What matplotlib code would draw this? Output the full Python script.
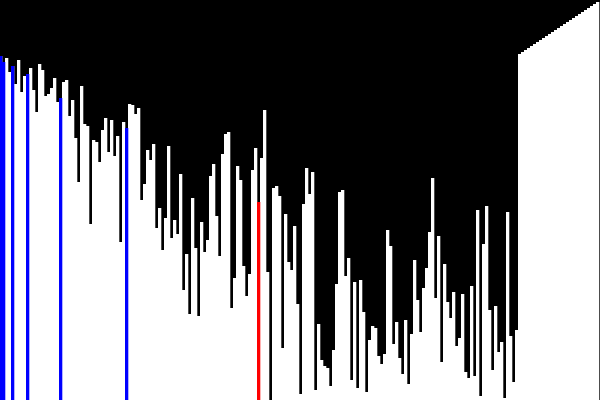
#!/usr/bin/env python3
"""Sorting snapshot: one white bar per element on black, with marked bars."""

import matplotlib

matplotlib.use("Agg")
import matplotlib.pyplot as plt

# top of each bar (pixels below the top edge)
tops = [
    56, 62, 58, 72, 66, 84, 60, 92, 76, 74,
    68, 90, 112, 64, 70, 96, 94, 88, 78, 102,
    98, 82, 80, 116, 100, 138, 182, 86, 124, 126,
    224, 140, 142, 162, 130, 118, 152, 120, 156, 136,
    242, 122, 128, 104, 105, 114, 108, 200, 184, 150,
    160, 144, 228, 208, 250, 218, 146, 238, 220, 234,
    174, 290, 254, 314, 198, 248, 316, 222, 252, 240,
    176, 164, 216, 256, 154, 134, 132, 308, 278, 166,
    180, 266, 296, 274, 170, 148, 202, 158, 110, 272,
    400, 188, 186, 196, 348, 214, 262, 270, 226, 304,
    394, 204, 168, 194, 172, 390, 324, 360, 366, 368,
    386, 350, 284, 192, 190, 276, 258, 380, 282, 388,
    280, 312, 392, 340, 326, 328, 356, 364, 354, 230,
    246, 344, 322, 358, 374, 320, 384, 334, 260, 300,
    332, 288, 268, 232, 178, 298, 236, 362, 264, 302,
    318, 292, 346, 338, 294, 372, 378, 286, 376, 210,
    396, 244, 206, 310, 370, 306, 352, 342, 398, 212,
    336, 382, 330,
    54, 52, 50, 48, 46, 44, 42, 40, 38, 36,
    34, 32, 30, 28, 26, 24, 22, 20, 18, 16,
    14, 12, 10, 8, 6, 4, 2,
]
blue_bars = [0, 1, 4, 9, 20, 42]
red_bars = [86]

values = [400 - t for t in tops]
positions = [i - 0.5 for i in range(len(values))]

fig = plt.figure(figsize=(6, 4), dpi=100, facecolor="black")
ax = fig.add_axes([0, 0, 1, 1])
ax.set_facecolor("black")

# bars are a touch wider than their slot, which leaves the grey column edges
ax.bar(positions, values, width=1.1, align="edge", color="white", linewidth=0, snap=False)
for marked, colour in ((blue_bars, "blue"), (red_bars, "red")):
    ax.bar(
        [positions[i] for i in marked],
        [values[i] for i in marked],
        width=1.1,
        align="edge",
        color=colour,
        linewidth=0,
        snap=False,
        zorder=3,
    )

ax.set_xlim(-1 / 6, 199 + 5 / 6)
ax.set_ylim(0, 400)
ax.axis("off")

fig.savefig("out.png", dpi=100, facecolor="black")
